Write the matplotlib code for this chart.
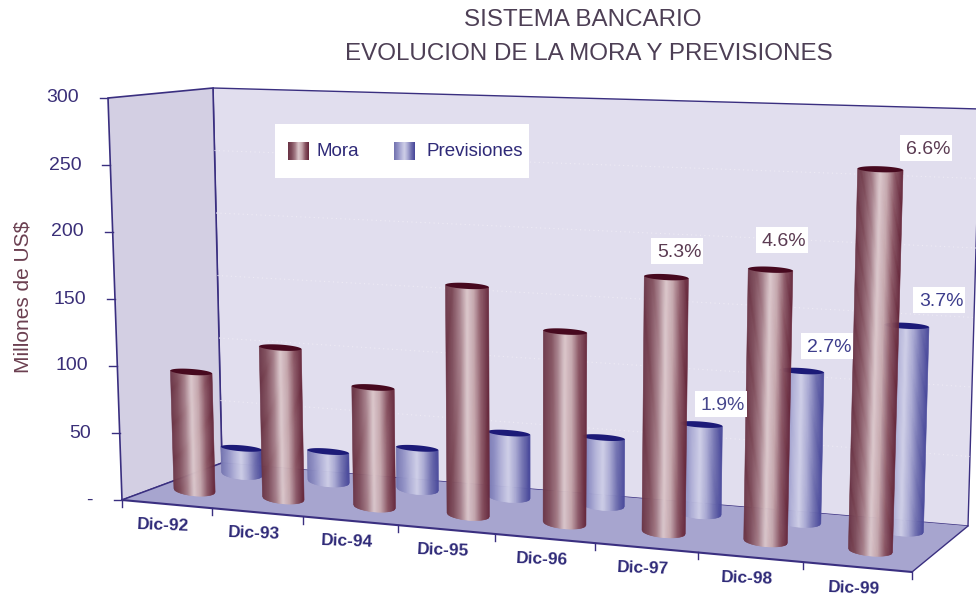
#!/usr/bin/env python

"""
Cylinder bar chart of bank arrears and provisions, drawn on a hand made
3D box (matplotlib's own 3D axes can't shade the cylinders like this).
"""

import numpy as np
import matplotlib
matplotlib.use("Agg")
import matplotlib.pyplot as plt
from matplotlib.collections import PolyCollection
from matplotlib.colors import LinearSegmentedColormap
from matplotlib.patches import Polygon, Rectangle

plt.rcParams["font.family"] = ["Liberation Sans", "DejaVu Sans"]

periods = ["Dic-92", "Dic-93", "Dic-94", "Dic-95",
           "Dic-96", "Dic-97", "Dic-98", "Dic-99"]
mora = [90, 113, 88, 167, 138, 181, 190, 263]
previsiones = [20, 23, 31, 48, 50, 65, 109, 146]
value_ticks = [0, 50, 100, 150, 200, 250, 300]
value_tick_labels = ["-", "50", "100", "150", "200", "250", "300"]

# (text, text colour, box centre x, box centre y)
pct_labels = [
    ("5.3%", "#5b3b52", 677, 251),
    ("4.6%", "#5b3b52", 782, 240),
    ("6.6%", "#5b3b52", 926, 148),
    ("1.9%", "#47478c", 721, 404),
    ("2.7%", "#3d3d8c", 827, 346),
    ("3.7%", "#3d3d8c", 939, 300),
]

WIDTH, HEIGHT = 976, 595
NAVY = "#3a2f80"
YMAX = 300.0

# corners of the box in pixels: floor then ceiling, front/back, left/right
FLOOR_FL = np.array([122.0, 500.0])
FLOOR_FR = np.array([912.0, 572.0])
FLOOR_BL = np.array([222.0, 463.0])
FLOOR_BR = np.array([968.0, 526.0])
TOP_FL = np.array([108.0, 98.0])
TOP_FR = np.array([926.0, 122.0])
TOP_BL = np.array([213.0, 88.0])
TOP_BR = np.array([980.0, 109.0])
PERSPECTIVE = 1.118


def project(u, depth, value):
    """Category position, depth (0 front, 1 back) and value to pixels."""
    s = u / len(periods)
    t = s / (s + (1 - s) * PERSPECTIVE)
    floor = (FLOOR_FL + (FLOOR_FR - FLOOR_FL) * t) * (1 - depth) \
        + (FLOOR_BL + (FLOOR_BR - FLOOR_BL) * t) * depth
    top = (TOP_FL + (TOP_FR - TOP_FL) * t) * (1 - depth) \
        + (TOP_BL + (TOP_BR - TOP_BL) * t) * depth
    return floor + (top - floor) * value / YMAX


def draw_cylinder(ax, u, depth, value, radius, cmap, cap_color, zorder):
    """Shade a cylinder as thin vertical strips with an elliptic cap."""
    n = 40
    xs = np.linspace(-1, 1, n + 1)
    strips, shades = [], []
    bottom_ry, top_ry = 5.5, 3.0
    for a, b in zip(xs[:-1], xs[1:]):
        pa0 = project(u + a * radius, depth, 0)
        pb0 = project(u + b * radius, depth, 0)
        pa1 = project(u + a * radius, depth, value)
        pb1 = project(u + b * radius, depth, value)
        pa0 = pa0 + [0, bottom_ry * np.sqrt(1 - a * a)]
        pb0 = pb0 + [0, bottom_ry * np.sqrt(1 - b * b)]
        strips.append([pa1, pb1, pb0, pa0])
        shades.append((a + b + 2) / 4)
    colors = cmap(shades)
    ax.add_collection(PolyCollection(strips, facecolors=colors,
                                     edgecolors=colors, linewidths=0.4,
                                     zorder=zorder))
    # top of the cylinder
    angles = np.linspace(0, 2 * np.pi, 60)
    cap = [project(u + np.cos(x) * radius, depth, value)
           + [0, np.sin(x) * top_ry] for x in angles]
    ax.add_patch(Polygon(cap, closed=True, facecolor=cap_color,
                         edgecolor="none", zorder=zorder + 0.1))


mora_cmap = LinearSegmentedColormap.from_list(
    "mora", ["#6a3445", "#7f4d5b", "#a47c87", "#dcc8cc", "#c4a5ab",
             "#8a5563", "#65273b"])
prev_cmap = LinearSegmentedColormap.from_list(
    "prev", ["#7474b0", "#8f8fc4", "#b2b2d8", "#cfcfe8", "#a8a8d2",
             "#7070b0", "#48489a"])

fig = plt.figure(figsize=(WIDTH / 100, HEIGHT / 100), dpi=100)
ax = fig.add_axes([0, 0, 1, 1])
ax.set_xlim(0, WIDTH)
ax.set_ylim(HEIGHT, 0)
ax.axis("off")

# walls and floor
ax.add_patch(Polygon([TOP_BL, TOP_BR, FLOOR_BR, FLOOR_BL], closed=True,
                     facecolor="#e1deee", edgecolor=NAVY, linewidth=1.0,
                     zorder=1))
ax.add_patch(Polygon([TOP_FL, TOP_BL, FLOOR_BL, FLOOR_FL], closed=True,
                     facecolor="#d3cfe3", edgecolor=NAVY, linewidth=1.2,
                     zorder=1.1))
ax.add_patch(Polygon([FLOOR_FL, FLOOR_FR, FLOOR_BR, FLOOR_BL], closed=True,
                     facecolor="#a7a5cf", edgecolor="none", zorder=1.2))

# faint dotted grid on the back wall
for v in value_ticks[1:-1]:
    p0 = project(0, 1, v)
    p1 = project(len(periods), 1, v)
    ax.plot([p0[0], p1[0]], [p0[1], p1[1]], color="#eeebf5", lw=0.8,
            ls=(0, (1, 3)), zorder=1.15)

# front edge of the floor
n_periods = len(periods)
p0, p1 = project(0, 0, 0), project(n_periods, 0, 0)
ax.plot([p0[0], p1[0]], [p0[1], p1[1]], color=NAVY, lw=1.5, zorder=1.3)
p2 = project(n_periods, 1, 0)
ax.plot([p1[0], p2[0]], [p1[1], p2[1]], color=NAVY, lw=1.0, zorder=1.3)
p3 = project(0, 1, 0)
ax.plot([p0[0], p3[0]], [p0[1], p3[1]], color=NAVY, lw=1.0, zorder=1.3)

# category ticks and labels
for i in range(n_periods + 1):
    p = project(i, 0, 0)
    ax.plot([p[0], p[0]], [p[1], p[1] + 7], color=NAVY, lw=1.0, zorder=1.3)
for i, name in enumerate(periods):
    p = project(i + 0.5, 0, 0)
    ax.text(p[0] - 3, p[1] + 21, name, color="#2f2a78", fontsize=12.5,
            fontweight="bold", ha="center", va="center", rotation=-2)

# value axis
for v, name in zip(value_ticks, value_tick_labels):
    p = project(0, 0, v)
    ax.plot([p[0] - 8, p[0]], [p[1], p[1]], color=NAVY, lw=1.0, zorder=1.3)
    ax.text(p[0] - 29, p[1], name, color="#3a2f78", fontsize=14,
            ha="right", va="center")

ax.text(23, 297, "Millones de US$", color="#6b3f50", fontsize=15,
        rotation=90, ha="center", va="center")

# cylinders, back row first
for i, v in enumerate(previsiones):
    draw_cylinder(ax, i + 0.47, 0.8, v, 0.24 - 0.004 * i, prev_cmap,
                  "#1c1a78", 3 + i / 10)
for i, v in enumerate(mora):
    draw_cylinder(ax, i + 0.43, 0.35, v, 0.235 - 0.004 * i, mora_cmap,
                  "#47091f", 5 + i / 10)

# percentage labels in white boxes
for text, color, x, y in pct_labels:
    ax.add_patch(Rectangle((x - 26, y - 13), 52, 26, facecolor="white",
                           edgecolor="none", zorder=7))
    ax.text(x + 2, y + 1.5, text, color=color, fontsize=14, ha="center",
            va="center", zorder=8)

# legend
ax.add_patch(Rectangle((275, 124), 254, 54, facecolor="white",
                       edgecolor="none", zorder=7))
for x0, cmap, name, tx in [(288, mora_cmap, "Mora", 317),
                           (394, prev_cmap, "Previsiones", 427)]:
    ax.imshow(np.linspace(0, 1, 32).reshape(1, -1), cmap=cmap, aspect="auto",
              extent=(x0, x0 + 21, 160, 142), zorder=8)
    ax.text(tx, 152, name, color="#2f2a78", fontsize=13.5, ha="left",
            va="center", zorder=8)
ax.set_xlim(0, WIDTH)
ax.set_ylim(HEIGHT, 0)

# title
title_color = "#4d3f55"
ax.text(583, 20, "SISTEMA BANCARIO", color=title_color, fontsize=17.4,
        ha="center", va="center")
ax.text(589, 54, "EVOLUCION DE LA MORA Y PREVISIONES", color=title_color,
        fontsize=17.4, ha="center", va="center")

fig.savefig("out.png", dpi=100)
